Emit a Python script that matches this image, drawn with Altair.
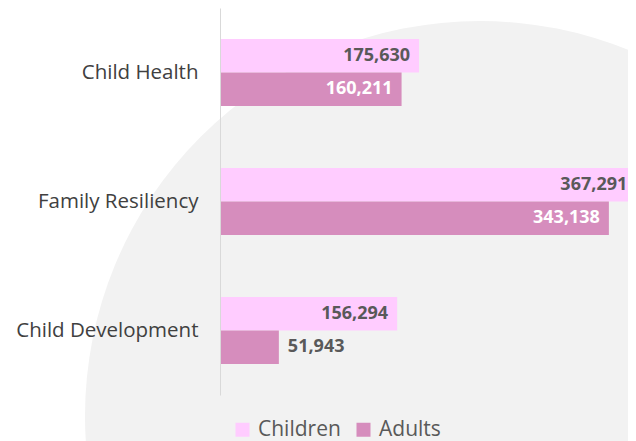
import altair as alt
import pandas as pd

categories = ["Child Health", "Family Resiliency", "Child Development"]
series = ["Children", "Adults"]
children = [175630, 367291, 156294]
adults = [160211, 343138, 51943]

rows = []
for c, ch, ad in zip(categories, children, adults):
    rows.append({"category": c, "group": "Children", "value": ch})
    rows.append({"category": c, "group": "Adults", "value": ad})
df = pd.DataFrame(rows)
df["label"] = df["value"].map(lambda v: f"{v:,}")

FONT = "Open Sans"
GRAY = "#595959"

y_enc = alt.Y("category:N", sort=categories, title=None,
              scale=alt.Scale(paddingInner=0.48, paddingOuter=0.24),
              axis=alt.Axis(ticks=False, labelFont=FONT, labelFontSize=20.5,
                            labelColor="#404040", labelPadding=22, labelLimit=400,
                            domainColor="#D9D9D9", zindex=1))
yoff = alt.YOffset("group:N", sort=series)
x_enc = alt.X("value:Q", axis=None, scale=alt.Scale(domain=[0, 360000], nice=False, zero=True))

# decorative background circle
bg = alt.Chart(pd.DataFrame({"d": [0]})).mark_point(
    filled=True, shape="circle", size=624100, color="#F2F2F2", opacity=1, strokeWidth=0
).encode(x=alt.value(260), y=alt.value(408))

bars = alt.Chart(df).mark_bar(clip=True).encode(
    y=y_enc, yOffset=yoff, x=x_enc,
    color=alt.Color("group:N", sort=series,
                    scale=alt.Scale(domain=series, range=["#FFCCFF", "#D68DBD"]),
                    legend=alt.Legend(title=None, orient="none", legendX=12, legendY=411,
                                      direction="horizontal", symbolType="square",
                                      symbolSize=196, symbolStrokeWidth=0,
                                      labelFont=FONT, labelFontSize=21, labelColor=GRAY,
                                      labelOffset=5, columnPadding=12))
)

inside = alt.Chart(df).transform_filter("datum.value > 100000").mark_text(
    align="right", baseline="middle", dx=-9, font=FONT, fontSize=18, fontWeight="bold"
).encode(
    y=alt.Y("category:N", sort=categories), yOffset=yoff, x=x_enc, text="label:N",
    color=alt.condition("datum.group == 'Children'", alt.value(GRAY), alt.value("#FFFFFF"))
)

outside = alt.Chart(df).transform_filter("datum.value <= 100000").mark_text(
    align="left", baseline="middle", dx=9, font=FONT, fontSize=18, fontWeight="bold", color=GRAY
).encode(
    y=alt.Y("category:N", sort=categories), yOffset=yoff, x=x_enc, text="label:N"
)

chart = alt.layer(bg, bars, inside, outside).properties(
    width=408, height=387,
    autosize=alt.AutoSizeParams(type="none"),
    padding={"left": 212, "top": 0, "right": 0, "bottom": 46},
    background="#FFFFFF"
).configure_view(stroke=None)

chart.save("out.html", embed_options={"renderer": "svg", "actions": False})
